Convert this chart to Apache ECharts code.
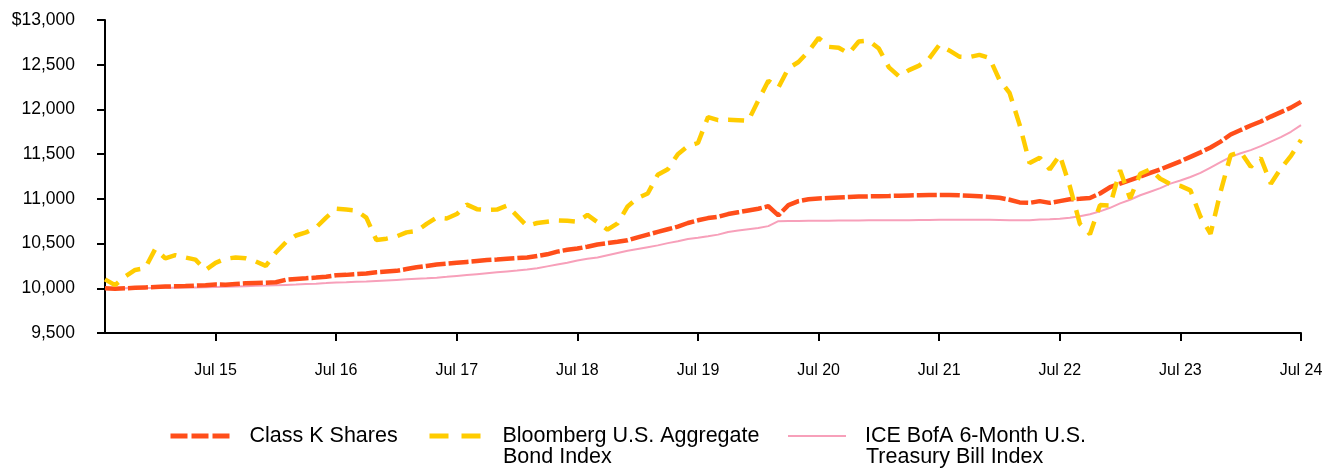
<!DOCTYPE html>
<html>
<head>
<meta charset="utf-8">
<title>Growth of $10,000</title>
<script src="https://cdn.jsdelivr.net/npm/echarts@6/dist/echarts.min.js"></script>
<style>
    html, body { margin: 0; padding: 0; background: #fff; }
    #chart { width: 1332px; height: 468px; }
</style>
</head>
<body>
<div id="chart"></div>
<script>
// months Aug 14 .. Jul 24
var months = [];
var monNames = ['Jan','Feb','Mar','Apr','May','Jun','Jul','Aug','Sep','Oct','Nov','Dec'];
for (var y = 2014; y <= 2024; y++) {
    for (var m = 0; m < 12; m++) {
        if (y === 2014 && m < 7) continue;
        if (y === 2024 && m > 6) continue;
        months.push(monNames[m] + ' ' + String(y).slice(2));
    }
}

var classK = [
    10000, 9995, 10000, 10005, 10010, 10015, 10020, 10022, 10025, 10030, 10035, 10042,
    10040, 10048, 10055, 10060, 10062, 10068, 10095, 10105, 10112, 10120, 10130, 10145,
    10150, 10158, 10165, 10180, 10188, 10195, 10215, 10235, 10250, 10265, 10275, 10285,
    10295, 10305, 10315, 10322, 10330, 10338, 10345, 10360, 10380, 10410, 10430, 10444,
    10465, 10490, 10505, 10520, 10537, 10570, 10600, 10630, 10660, 10690, 10730, 10760,
    10785, 10800, 10830, 10850, 10870, 10890, 10917, 10816, 10930, 10975, 10995, 11005,
    11010, 11015, 11020, 11025, 11028, 11030, 11032, 11035, 11038, 11040, 11042, 11044,
    11044, 11040, 11035, 11030, 11022, 11012, 10990, 10960, 10955, 10975, 10955, 10975,
    10995, 11000, 11010, 11060, 11130, 11170, 11210, 11250, 11290, 11330, 11375, 11420,
    11470, 11520, 11575, 11640, 11720, 11770, 11820, 11865, 11920, 11970, 12020, 12085
];

var bbAgg = [
    10100, 10035, 10130, 10205, 10225, 10440, 10335, 10370, 10345, 10320, 10205, 10285,
    10330, 10345, 10335, 10300, 10250, 10400, 10515, 10590, 10625, 10680, 10790, 10890,
    10880, 10870, 10790, 10540, 10555, 10580, 10625, 10640, 10720, 10790, 10780, 10830,
    10935, 10885, 10875, 10880, 10925, 10810, 10695, 10730, 10745, 10760, 10755, 10745,
    10820, 10740, 10655, 10725, 10915, 11010, 11060, 11270, 11330, 11500, 11590, 11625,
    11915, 11880, 11885, 11880, 11872, 12100, 12320, 12245, 12460, 12530, 12650, 12800,
    12700, 12690, 12625, 12760, 12770, 12680, 12470, 12370, 12440, 12490, 12570, 12720,
    12660, 12590, 12585, 12610, 12575, 12330, 12185, 11830, 11400, 11460, 11330, 11490,
    11140, 10720, 10605, 10930, 10925, 11320, 11005, 11280, 11330, 11225, 11165, 11145,
    11095, 10800, 10610, 11080, 11490, 11525, 11360, 11455, 11170, 11340, 11480, 11660
];

var tBill = [
    10000, 10000, 10001, 10002, 10003, 10004, 10005, 10006, 10008, 10010, 10012, 10015,
    10018, 10021, 10024, 10027, 10030, 10034, 10038, 10042, 10047, 10052, 10058, 10065,
    10068, 10072, 10076, 10082, 10088, 10094, 10100, 10106, 10112, 10119, 10128, 10138,
    10148, 10158, 10168, 10178, 10188, 10198, 10210, 10225, 10245, 10265, 10285, 10310,
    10330, 10345, 10370, 10395, 10420, 10440, 10460, 10480, 10505, 10525, 10550, 10565,
    10582, 10600, 10630, 10645, 10660, 10675, 10695, 10750, 10752, 10752, 10754, 10755,
    10756, 10757, 10758, 10759, 10760, 10760, 10761, 10762, 10762, 10763, 10764, 10765,
    10765, 10766, 10766, 10767, 10766, 10764, 10762, 10760, 10762, 10768, 10772, 10778,
    10790, 10805, 10828, 10860, 10900, 10950, 10990, 11040, 11080, 11120, 11170, 11205,
    11245, 11290, 11350, 11410, 11470, 11510, 11545, 11590, 11640, 11690, 11750, 11825
];

var seriesNames = ['Class K Shares', 'Bloomberg U.S. Aggregate\nBond Index', 'ICE BofA 6-Month U.S.\nTreasury Bill Index'];
var colors = ['#FF4E1A', '#FFCC00', '#F7A0BA'];

var chart = echarts.init(document.getElementById('chart'));
var isJul = function (idx) { return months[idx].indexOf('Jul') === 0; };
var font = '"Liberation Sans", Arial, sans-serif';
var legendFont = 21.5;

// legend shows first line next to the sample, second line is put under it
var firstLine = function (n) { return n.split('\n')[0]; };
function makeLegend(name, left, width, padLeft, dash, lw) {
    return {
        data: [name], left: left, top: 425, padding: 0,
        itemWidth: width, itemHeight: 14,
        formatter: firstLine,
        textStyle: { fontFamily: font, fontSize: legendFont, color: '#000', padding: [0, 0, 0, padLeft] },
        itemStyle: { opacity: 0 },
        lineStyle: { type: dash, width: lw }
    };
}

var option = {
    animation: false,
    backgroundColor: '#fff',
    grid: { left: 105, right: 31, top: 20, bottom: 135, containLabel: false },
    legend: [
        makeLegend(seriesNames[0], 168, 60, 14, [17, 4], 5),
        makeLegend(seriesNames[1], 427, 51, 17, [19, 13], 5),
        makeLegend(seriesNames[2], 787, 58, 14, 'solid', 2)
    ],
    graphic: [
        { type: 'text', left: 503, top: 446, style: { text: seriesNames[1].split('\n')[1], font: legendFont + 'px ' + font, fill: '#000' } },
        { type: 'text', left: 866, top: 446, style: { text: seriesNames[2].split('\n')[1], font: legendFont + 'px ' + font, fill: '#000' } }
    ],
    xAxis: {
        type: 'category',
        data: months,
        boundaryGap: false,
        axisLine: { lineStyle: { color: '#000', width: 2 } },
        axisTick: { interval: function (i) { return isJul(i); }, length: 8, lineStyle: { color: '#000', width: 2 } },
        axisLabel: {
            interval: function (i) { return isJul(i); },
            fontFamily: font, fontSize: 16, color: '#000', margin: 30
        },
        splitLine: { show: false }
    },
    yAxis: {
        type: 'value',
        min: 9500,
        max: 13000,
        interval: 500,
        axisLine: { show: true, lineStyle: { color: '#000', width: 2 } },
        axisTick: { show: true, length: 8, lineStyle: { color: '#000', width: 2 } },
        axisLabel: {
            fontFamily: font, fontSize: 17.5, color: '#000', margin: 30,
            formatter: function (v) {
                var s = v.toLocaleString('en-US');
                return v === 13000 ? '$' + s : s;
            }
        },
        splitLine: { show: false }
    },
    series: [
        {
            name: seriesNames[2], type: 'line', data: tBill, symbol: 'none', z: 2,
            itemStyle: { color: colors[2] },
            lineStyle: { color: colors[2], width: 2 }
        },
        {
            name: seriesNames[0], type: 'line', data: classK, symbol: 'none', z: 3,
            itemStyle: { color: colors[0] },
            lineStyle: { color: colors[0], width: 4.5, type: [20, 3] }
        },
        {
            name: seriesNames[1], type: 'line', data: bbAgg, symbol: 'none', z: 4,
            itemStyle: { color: colors[1] },
            lineStyle: { color: colors[1], width: 4.5, type: [16, 10] }
        }
    ]
};
chart.setOption(option);
</script>
</body>
</html>
